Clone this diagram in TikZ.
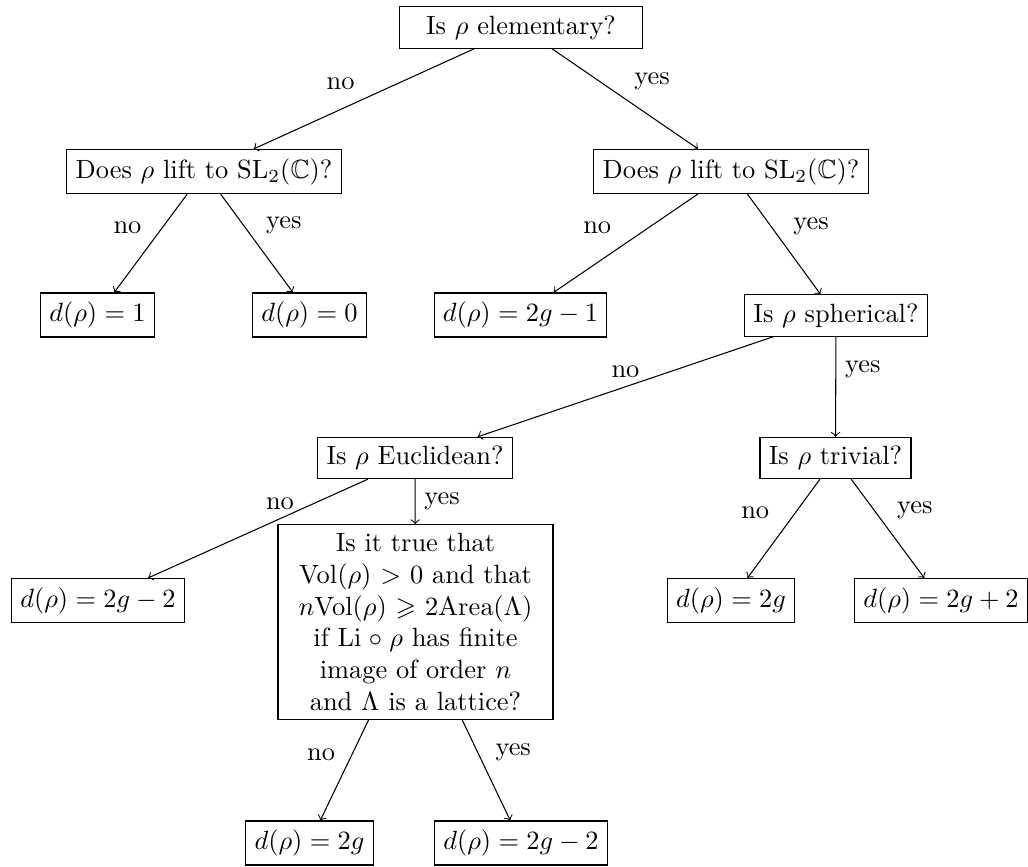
\documentclass[tikz,border=0pt]{standalone}
\usepackage{amsmath,amssymb}
\begin{document}
\begin{tikzpicture}[x=0.37879pt,y=-0.37879pt,
  box/.style={draw, line width=0.4pt, inner sep=0.3333em},
  conn/.style={->, line width=0.4pt},
  lbl/.style={inner sep=0.3333em}]
\useasboundingbox (0,0) rectangle (1028,867);
\node[box, minimum width=92.4pt] (top) at (521,27.5) {Is $\rho$ elementary?};
\node[box] (liftL) at (204,171.5) {Does $\rho$ lift to $\mathrm{SL}_2(\mathbb{C})$?};
\node[box] (liftR) at (731,171.5) {Does $\rho$ lift to $\mathrm{SL}_2(\mathbb{C})$?};
\node[box] (d1) at (97.5,315) {$d(\rho)=1$};
\node[box] (d0) at (309.5,315) {$d(\rho)=0$};
\node[box] (dA) at (520.5,315) {$d(\rho)=2g-1$};
\node[box] (sph) at (836,315.5) {Is $\rho$ spherical?};
\node[box] (euc) at (415,458) {Is $\rho$ Euclidean?};
\node[box] (triv) at (835.5,458) {Is $\rho$ trivial?};
\node[box] (dB) at (98,600.5) {$d(\rho)=2g-2$};
\node[box, align=center, text width=97.5pt] (big) at (415.5,622) {Is it true that\\ $\mathrm{Vol}(\rho)>0$ and that\\ $n\mathrm{Vol}(\rho)\geqslant 2\mathrm{Area}(\Lambda)$\\ if $\mathrm{Li}\circ\rho$ has finite\\ image of order $n$\\ and $\Lambda$ is a lattice?};
\node[box] (dC) at (731,600.5) {$d(\rho)=2g$};
\node[box] (dD) at (941,600.5) {$d(\rho)=2g+2$};
\node[box] (dE) at (309.5,843) {$d(\rho)=2g$};
\node[box] (dF) at (521,843) {$d(\rho)=2g-2$};

\draw[conn] (top) -- node[lbl, above left] (l1) {no} (liftL);
\draw[conn] (top) -- node[lbl, above right] (l2) {yes} (liftR);
\draw[conn] (liftL) -- node[lbl, above left] (l3) {no} (d1);
\draw[conn] (liftL) -- node[lbl, above right] (l4) {yes} (d0);
\draw[conn] (liftR) -- node[lbl, above left, xshift=-2pt] (l5) {no} (dA);
\draw[conn] (liftR) -- node[lbl, above right] (l6) {yes} (sph);
\draw[conn] (sph) -- node[lbl, above] (l7) {no} (euc);
\draw[conn] (sph) -- node[lbl, above right] (l8) {yes} (triv);
\draw[conn] (euc) -- node[lbl, pos=0.4, above] (l9) {no} (dB);
\draw[conn] (euc) -- node[lbl, right] (l10) {yes} (big);
\draw[conn] (triv) -- node[lbl, above left, xshift=-2pt] (l11) {no} (dC);
\draw[conn] (triv) -- node[lbl, above right] (l12) {yes} (dD);
\draw[conn] (big) -- node[lbl, above left] (l13) {no} (dE);
\draw[conn] (big) -- node[lbl, above right] (l14) {yes} (dF);
\end{tikzpicture}
\end{document}
